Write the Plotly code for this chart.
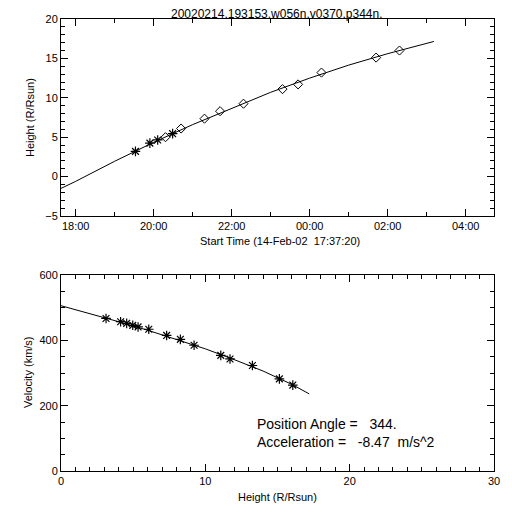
import plotly.graph_objects as go

# ---------------- data ----------------
title_text = "20020214.193153.w056n.v0370.p344n."

# Height-time measurements (top panel)
c2_times = ["2002-02-14 19:31:53", "2002-02-14 19:54:05", "2002-02-14 20:06:05", "2002-02-14 20:29:05"]
c2_heights = [3.2, 4.25, 4.65, 5.45]
c3_times = ["2002-02-14 20:18:05", "2002-02-14 20:42:05", "2002-02-14 21:18:05", "2002-02-14 21:42:05",
            "2002-02-14 22:18:05", "2002-02-14 23:18:05", "2002-02-14 23:42:05",
            "2002-02-15 00:18:05", "2002-02-15 01:42:05", "2002-02-15 02:18:05"]
c3_heights = [5.0, 6.1, 7.35, 8.3, 9.25, 11.1, 11.7, 13.2, 15.1, 16.0]

# Fitted height-time curve
fit_times = ["2002-02-14 17:37:20", "2002-02-14 18:00", "2002-02-14 19:00", "2002-02-14 20:00",
             "2002-02-14 21:00", "2002-02-14 22:00", "2002-02-14 23:00", "2002-02-15 00:00",
             "2002-02-15 01:00", "2002-02-15 02:00", "2002-02-15 03:00", "2002-02-15 03:11"]
fit_heights = [-1.5, -0.6, 1.95, 4.35, 6.6, 8.7, 10.7, 12.5, 14.15, 15.6, 16.9, 17.15]

# Velocity-height measurements (bottom panel)
vel_heights = [3.12, 4.13, 4.55, 4.97, 5.34, 6.08, 7.32, 8.27, 9.22, 11.07, 11.71, 13.26, 15.13, 16.06]
velocities = [467, 457, 452, 446, 441, 434, 415, 403, 385, 354, 343, 323, 282, 263]

# Fitted velocity-height curve
vfit_heights = [0, 2, 4, 6, 8, 10, 12, 14, 16, 17.2]
vfit_values = [506, 482, 457, 431, 403, 374, 341, 306, 265, 236]

time_range = ["2002-02-14 17:37:20", "2002-02-15 04:43:30"]
time_tickvals = ["2002-02-14 18:00", "2002-02-14 20:00", "2002-02-14 22:00",
                 "2002-02-15 00:00", "2002-02-15 02:00", "2002-02-15 04:00"]
time_ticktext = ["18:00", "20:00", "22:00", "00:00", "02:00", "04:00"]

info_lines = ["Position Angle =\u00a0\u00a0 344.", "Acceleration =\u00a0\u00a0 -8.47\u00a0 m/s^2"]

# ---------------- figure ----------------
FONT = "Liberation Sans"
OFF = 8          # default page body margin
W = H = 512 - 2 * OFF
fig = go.Figure()

line_style = dict(color="black", width=1)

fig.add_trace(go.Scatter(x=fit_times, y=fit_heights, mode="lines", line=line_style,
                         xaxis="x", yaxis="y", showlegend=False, hoverinfo="skip"))
fig.add_trace(go.Scatter(x=c2_times, y=c2_heights, mode="markers",
                         marker=dict(symbol="asterisk-open", size=8, color="black",
                                     line=dict(color="black", width=1.2)),
                         xaxis="x", yaxis="y", showlegend=False))
fig.add_trace(go.Scatter(x=c3_times, y=c3_heights, mode="markers",
                         marker=dict(symbol="diamond-open", size=7, color="black",
                                     line=dict(color="black", width=1)),
                         xaxis="x", yaxis="y", showlegend=False))

fig.add_trace(go.Scatter(x=vfit_heights, y=vfit_values, mode="lines", line=line_style,
                         xaxis="x2", yaxis="y2", showlegend=False, hoverinfo="skip"))
fig.add_trace(go.Scatter(x=vel_heights, y=velocities, mode="markers",
                         marker=dict(symbol="asterisk-open", size=8, color="black",
                                     line=dict(color="black", width=1.2)),
                         xaxis="x2", yaxis="y2", showlegend=False))


def px_x(p):
    return (p - OFF) / W


def px_y(p):
    return 1 - (p - OFF) / H


axis_common = dict(showline=True, linecolor="black", linewidth=1, mirror="ticks",
                   ticks="inside", ticklen=7, tickwidth=1, tickcolor="black",
                   showgrid=False, zeroline=False, automargin=False,
                   tickfont=dict(family=FONT, size=11, color="black"))
minor_common = dict(ticks="inside", ticklen=4, tickwidth=1, tickcolor="black", showgrid=False)

fig.update_layout(
    width=W, height=H,
    margin=dict(l=0, r=0, t=0, b=0, autoexpand=False),
    paper_bgcolor="white", plot_bgcolor="white",
    font=dict(family=FONT, color="black"),
    xaxis=dict(**axis_common, type="date", range=time_range,
               tickvals=time_tickvals, ticktext=time_ticktext,
               minor=dict(**minor_common, dtick=3600000),
               domain=[px_x(61), px_x(494)], anchor="y"),
    yaxis=dict(**axis_common, range=[-5, 20], tick0=0, dtick=5,
               minor=dict(**minor_common, dtick=1),
               domain=[px_y(216), px_y(19)], anchor="x"),
    xaxis2=dict(**axis_common, range=[0, 30], tick0=0, dtick=10,
                minor=dict(**minor_common, dtick=1),
                domain=[px_x(61), px_x(494)], anchor="y2"),
    yaxis2=dict(**axis_common, range=[0, 600], tick0=0, dtick=200,
                minor=dict(**minor_common, dtick=50),
                domain=[px_y(471), px_y(275)], anchor="x2"),
)

ann = [
    dict(text=title_text, x=px_x(277), y=px_y(13.5), font=dict(size=12)),
    dict(text="Start Time (14-Feb-02\u00a0 17:37:20)", x=px_x(280), y=px_y(241), font=dict(size=11)),
    dict(text="Height (R/Rsun)", x=px_x(30), y=px_y(118), textangle=-90, font=dict(size=11)),
    dict(text="Height (R/Rsun)", x=px_x(277), y=px_y(497), font=dict(size=11)),
    dict(text="Velocity (km/s)", x=px_x(28), y=px_y(372), textangle=-90, font=dict(size=11)),
    dict(text=info_lines[0], x=px_x(255), y=px_y(424), xanchor="left", font=dict(size=14)),
    dict(text=info_lines[1], x=px_x(255), y=px_y(442), xanchor="left", font=dict(size=14)),
]
for a in ann:
    a.setdefault("xanchor", "center")
    fig.add_annotation(xref="paper", yref="paper", yanchor="middle", showarrow=False,
                       font_family=FONT, font_color="black", **a)

fig.write_html("out.html")
